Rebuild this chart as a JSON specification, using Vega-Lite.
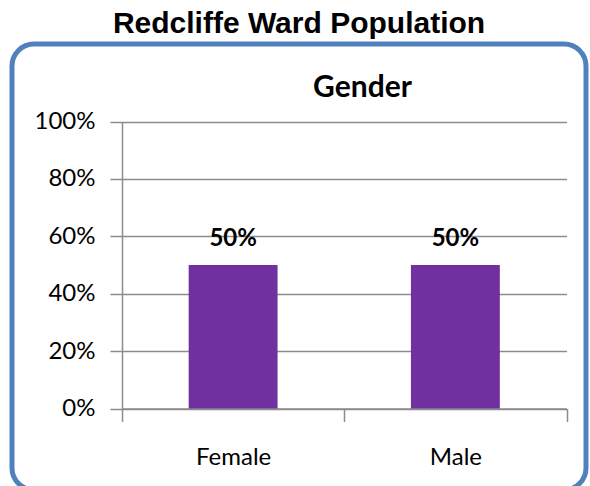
{
  "$schema": "https://vega.github.io/schema/vega-lite/v6.json",
  "autosize": "none",
  "padding": {"left": 12, "top": 44, "right": 4, "bottom": 0},
  "width": 574,
  "height": 446,
  "background": "#ffffff",
  "title": {"text": "Redcliffe Ward Population", "font": "Liberation Sans", "fontSize": 30, "fontWeight": "bold", "color": "#000000", "anchor": "middle", "offset": 5},
  "config": {"view": {"stroke": "#4F81BD", "strokeWidth": 5, "cornerRadius": 22}, "font": "Lato"},
  "data": {"values": [{"gender": "Female", "share": 0.5}, {"gender": "Male", "share": 0.5}]},
  "encoding": {
    "x": {
      "field": "gender", "type": "nominal", "sort": null,
      "scale": {"domain": ["Female", "Male"], "range": [110, 554.5], "paddingInner": 0, "paddingOuter": 0},
      "axis": {"orient": "bottom", "offset": -81.5, "title": null, "tickBand": "extent", "labelAngle": 0, "tickSize": 13, "tickWidth": 1.5, "tickColor": "#8c8c8c", "domainColor": "#8c8c8c", "domainWidth": 1.5, "labelFont": "Lato", "labelFontSize": 24, "labelPadding": 24, "labelColor": "#000000", "grid": false}
    },
    "y": {
      "field": "share", "type": "quantitative",
      "scale": {"domain": [0, 1], "range": [364.5, 77.5], "nice": false},
      "axis": {"orient": "left", "offset": -110, "format": ".0%", "values": [0, 0.2, 0.4, 0.6, 0.8, 1], "title": "Gender", "titleAngle": 0, "titleAlign": "center", "titleBaseline": "alphabetic", "titleX": 240, "titleY": 52, "titleFont": "Lato", "titleFontSize": 30, "titleFontWeight": "bold", "titleColor": "#000000", "grid": true, "gridColor": "#8c8c8c", "gridWidth": 1.5, "domainColor": "#8c8c8c", "domainWidth": 1.5, "tickColor": "#8c8c8c", "tickWidth": 1.5, "tickSize": 12, "labelFont": "Lato", "labelFontSize": 24, "labelColor": "#000000", "labelPadding": 15}
    }
  },
  "layer": [
    {"mark": {"type": "bar", "color": "#7030A0", "width": {"band": 0.4}}},
    {"mark": {"type": "text", "dy": -19, "baseline": "alphabetic", "font": "Lato", "fontSize": 24, "fontWeight": "bold", "color": "#000000"}, "encoding": {"text": {"field": "share", "type": "quantitative", "format": ".0%"}}}
  ]
}
